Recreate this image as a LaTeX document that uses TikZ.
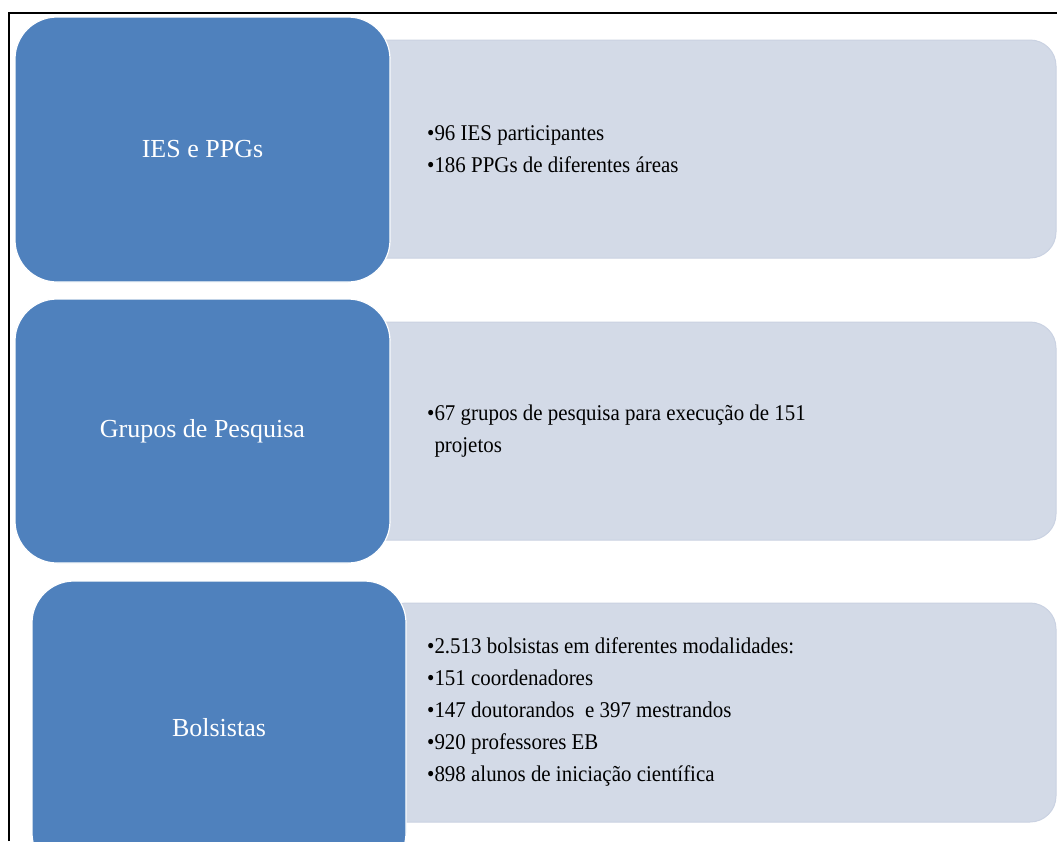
\documentclass[tikz,border=0pt]{standalone}
\usepackage{fontspec}
\setmainfont{Liberation Serif}
\newfontfamily\narrowserif[FakeStretch=0.93]{Liberation Serif}
\definecolor{boxblue}{HTML}{4F81BD}
\definecolor{boxgrey}{HTML}{D3DAE7}
\definecolor{greyedge}{HTML}{CAD2E2}
\begin{document}
\begin{tikzpicture}[x=1pt,y=-1pt,
  bluebox/.style={draw=white, line width=1.2pt, fill=boxblue, rounded corners=42pt,
    inner sep=0pt, text=white, font=\fontsize{26}{30}\selectfont},
  greybox/.style={draw=greyedge, line width=1pt, fill=boxgrey, rounded corners=26pt, inner sep=0pt},
  itemtext/.style={anchor=west, align=left, inner sep=0pt, font=\narrowserif\fontsize{22.5}{32}\selectfont}]
\useasboundingbox (0,0) rectangle (1057,841);
\fill[white] (0,0) rectangle (1057,841);
% grey panels
\node[greybox, minimum width=696pt, minimum height=218pt] (g1) at (708,149) {};
\node[greybox, minimum width=696pt, minimum height=218pt] (g2) at (708,431) {};
\node[greybox, minimum width=676pt, minimum height=219pt] (g3) at (718,712.5) {};
% blue boxes
\node[bluebox, minimum width=375pt, minimum height=265pt] (b1) at (202.5,149.5) {IES e PPGs};
\node[bluebox, minimum width=375pt, minimum height=264pt] (b2) at (202.5,431) {Grupos de Pesquisa};
\node[bluebox, minimum width=374pt, minimum height=294pt] (b3) at (219,728) {Bolsistas};
% texts
\node[itemtext] (t1) at (427,149) {•96 IES participantes\\•186 PPGs de diferentes áreas};
\node[itemtext] (t2) at (427,431) {•67 grupos de pesquisa para execução de 151\\\phantom{•}projetos};
\node[itemtext] (t3) at (427,712) {•2.513 bolsistas em diferentes modalidades:\\•151 coordenadores\\•147 doutorandos~ e 397 mestrandos\\•920 professores EB\\•898 alunos de iniciação científica};
% frame
\coordinate (fbl) at (9,841);
\coordinate (ftl) at (9,13);
\coordinate (ftr) at (1057,13);
\draw[line width=2pt] (fbl) -- (ftl) -- (ftr);
\end{tikzpicture}
\end{document}
